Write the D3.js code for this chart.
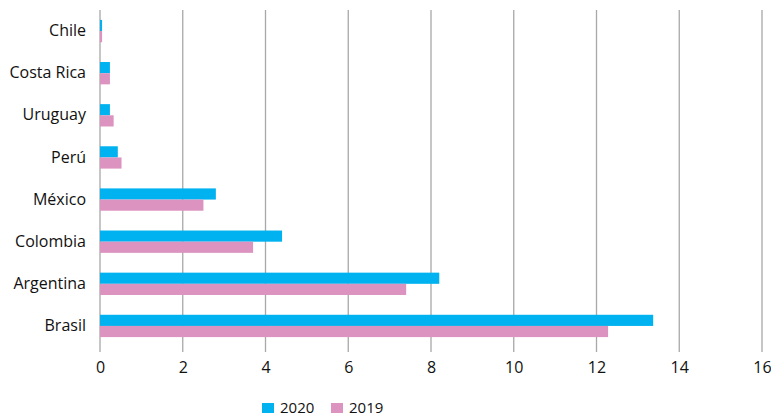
<!DOCTYPE html>
<html>
<head>
<meta charset="utf-8">
<script src="https://cdn.jsdelivr.net/npm/d3@7"></script>
<style>
  html, body { margin: 0; padding: 0; background: #fff; }
  svg text { font-family: "Open Sans", "Noto Sans", sans-serif; fill: #111; }
</style>
</head>
<body>
<svg id="chart" width="771" height="417"></svg>
<script>
const countries = ["Chile", "Costa Rica", "Uruguay", "Perú", "México", "Colombia", "Argentina", "Brasil"];
const values2020 = [0.05, 0.24, 0.24, 0.43, 2.8, 4.4, 8.2, 13.37];
const values2019 = [0.05, 0.24, 0.33, 0.52, 2.5, 3.7, 7.4, 12.28];
const seriesNames = ["2020", "2019"];
const seriesColors = ["#00b2ef", "#dc93c0"];
const xTicks = [0, 2, 4, 6, 8, 10, 12, 14, 16];

const svg = d3.select("#chart");
const margin = { left: 100, right: 9, top: 10, bottom: 70 };
const W = 771, H = 417;

const x = d3.scaleLinear().domain([0, 16]).range([margin.left, W - margin.right]);
const y = d3.scaleBand().domain(countries).range([margin.top, H - margin.bottom]).paddingInner(0.47).paddingOuter(0.235);
const sub = d3.scaleBand().domain(seriesNames).range([0, y.bandwidth()]);

// vertical grid lines
svg.append("g")
  .selectAll("line")
  .data(xTicks)
  .join("line")
  .attr("x1", d => x(d)).attr("x2", d => x(d))
  .attr("y1", margin.top).attr("y2", H - margin.bottom + 5)
  .attr("stroke", "#a8a8a8").attr("stroke-width", 1.3);

// x axis labels
const xAxis = d3.axisBottom(x).tickValues(xTicks).tickSize(0).tickPadding(15);
const gx = svg.append("g").attr("transform", `translate(0,${H - margin.bottom})`).call(xAxis);
gx.select(".domain").remove();
gx.selectAll("text").style("font-size", "16px").attr("fill", "#111");

// category labels
const yAxis = d3.axisLeft(y).tickSize(0).tickPadding(14);
const gy = svg.append("g").attr("transform", `translate(${margin.left},0)`).call(yAxis);
gy.select(".domain").remove();
gy.selectAll("text").style("font-size", "16px").attr("fill", "#111");

// legend
const legend = svg.append("g").attr("transform", "translate(262,399)");
const legX = [0, 69];
seriesNames.forEach((n, i) => {
  const g = legend.append("g").attr("transform", `translate(${legX[i]},0)`);
  g.append("rect").attr("y", 4).attr("width", 12).attr("height", 10).attr("fill", seriesColors[i]);
  g.append("text").attr("x", 18).attr("y", 14).style("font-size", "15px").text(n);
});

// bars
const series = [values2020, values2019];
series.forEach((vals, si) => {
  svg.append("g")
    .selectAll("rect")
    .data(countries.map((c, i) => ({ c, v: vals[i] })))
    .join("rect")
    .attr("x", x(0))
    .attr("y", d => y(d.c) + sub(seriesNames[si]))
    .attr("width", d => x(d.v) - x(0))
    .attr("height", sub.bandwidth())
    .attr("fill", seriesColors[si]);
});
</script>
</body>
</html>
